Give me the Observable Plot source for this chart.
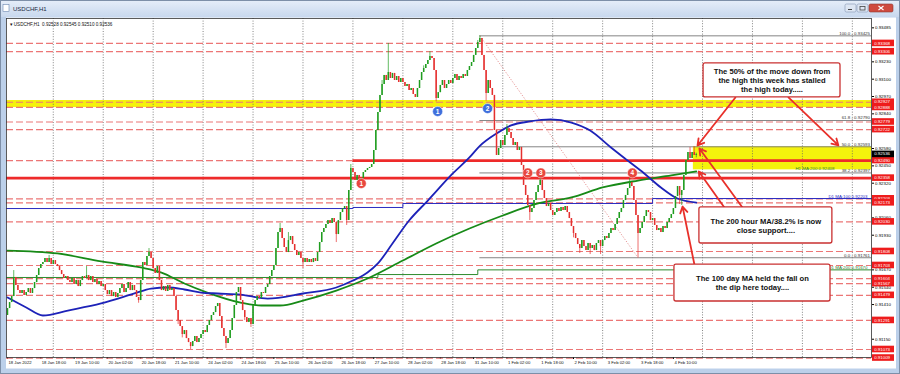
<!DOCTYPE html>
<html><head><meta charset="utf-8">
<script src="https://cdn.jsdelivr.net/npm/d3@7"></script>
<script src="https://cdn.jsdelivr.net/npm/@observablehq/plot@0.6"></script>
<style>
html,body{margin:0;padding:0;background:#c3d4ea;overflow:hidden;}
#chart{position:absolute;left:0;top:0;width:900px;height:374px;}
</style></head>
<body><div id="chart"></div>
<script>
// ---- hourly closes, USDCHF H1 (one array per trading day) ----
const firstOpen = 0.91328;
const jan18 = [0.91380,0.91425,0.91470,0.91613,0.91553,0.91515,0.91493,0.91515,0.91478,0.91500,0.91530,0.91493,0.91530,0.91575,0.91628,0.91680,0.91710,0.91725,0.91755,0.91725,0.91755,0.91710];
const jan19 = [0.91740,0.91710,0.91695,0.91665,0.91635,0.91605,0.91620,0.91590,0.91575,0.91605,0.91560,0.91590,0.91545,0.91590,0.91620,0.91605,0.91628,0.91590,0.91620,0.91575,0.91598,0.91560,0.91583,0.91545];
const jan20 = [0.91560,0.91515,0.91485,0.91515,0.91470,0.91500,0.91463,0.91493,0.91530,0.91560,0.91500,0.91530,0.91575,0.91515,0.91553,0.91515,0.91463,0.91440,0.91590,0.91725,0.91703,0.91770,0.91800,0.91755];
const jan21 = [0.91680,0.91643,0.91695,0.91590,0.91515,0.91545,0.91508,0.91553,0.91515,0.91530,0.91470,0.91365,0.91290,0.91245,0.91185,0.91215,0.91155,0.91125,0.91095,0.91133,0.91170,0.91125,0.91155,0.91185];
const jan24 = [0.91215,0.91200,0.91253,0.91290,0.91328,0.91350,0.91395,0.91418,0.91320,0.91230,0.91170,0.91118,0.91155,0.91215,0.91305,0.91403,0.91500,0.91538,0.91440,0.91365,0.91313,0.91275,0.91305,0.91260];
const jan25 = [0.91403,0.91440,0.91470,0.91455,0.91500,0.91493,0.91538,0.91560,0.91620,0.91665,0.91703,0.91830,0.91950,0.91980,0.91905,0.91838,0.91800,0.91890,0.91920,0.91860,0.91815,0.91778,0.91800,0.91755];
const jan26 = [0.91725,0.91755,0.91725,0.91748,0.91725,0.91755,0.91733,0.91800,0.91875,0.91950,0.91980,0.92010,0.92040,0.92018,0.92055,0.92025,0.91935,0.92040,0.92100,0.92130,0.92145,0.92040,0.92265,0.92430];
const jan27 = [0.92400,0.92340,0.92378,0.92318,0.92355,0.92400,0.92415,0.92430,0.92438,0.92460,0.92565,0.92715,0.92850,0.92978,0.93060,0.93128,0.93090,0.93150,0.93105,0.93143,0.93090,0.93120,0.93075,0.93105];
const jan28 = [0.93075,0.93045,0.93060,0.93015,0.93030,0.92985,0.92963,0.93030,0.93090,0.93150,0.93180,0.93210,0.93240,0.93270,0.93255,0.93165,0.92955,0.92999,0.93053,0.93090,0.93030,0.93060,0.93090,0.93068];
const jan31 = [0.93105,0.93135,0.93090,0.93120,0.93105,0.93135,0.93120,0.93165,0.93195,0.93225,0.93278,0.93330,0.93375,0.93405,0.93278,0.93165,0.92993,0.93090,0.93030,0.92978,0.92715,0.92528,0.92580,0.92640];
const feb01 = [0.92603,0.92678,0.92730,0.92700,0.92655,0.92603,0.92625,0.92565,0.92588,0.92453,0.92303,0.92228,0.92153,0.92100,0.92130,0.92190,0.92250,0.92303,0.92340,0.92265,0.92205,0.92145,0.92168,0.92115];
const feb02 = [0.92078,0.92100,0.92130,0.92108,0.92138,0.92115,0.92145,0.92100,0.92055,0.91995,0.91943,0.91905,0.91860,0.91830,0.91890,0.91845,0.91815,0.91868,0.91830,0.91853,0.91815,0.91868,0.91890,0.91845];
const feb03 = [0.91890,0.91920,0.91905,0.91943,0.91980,0.91965,0.92010,0.92055,0.92100,0.92130,0.92190,0.92228,0.92280,0.92325,0.92295,0.92190,0.92078,0.91943,0.91980,0.92025,0.92070,0.92115,0.92100,0.92040];
const feb04 = [0.92055,0.92003,0.91965,0.91980,0.91950,0.91995,0.91980,0.92025,0.92055,0.92085,0.92130,0.92220,0.92295,0.92228,0.92265,0.92378,0.92490,0.92550,0.92505,0.92550,0.92528,0.92536];

// notable wicks [bar index, price]
const wickHighs = [[3,0.91665],[20,0.91778],[38,0.91695],[68,0.91830],[131,0.92018],[135,0.91950],[165,0.92460],[180,0.93090],[183,0.93368],[200,0.93200],[203,0.93306],[226,0.93390],[227,0.93425],[240,0.92760],[256,0.92400],[299,0.92355],[328,0.92588],[330,0.92593],[331,0.92545]];
const wickLows = [[63,0.91420],[82,0.91260],[84,0.91160],[88,0.91073],[105,0.91080],[114,0.91290],[117,0.91238],[142,0.91680],[158,0.91875],[163,0.92003],[169,0.92280],[206,0.92930],[230,0.92935],[251,0.92040],[272,0.91910],[275,0.91793],[280,0.91785],[285,0.91785],[303,0.91761],[323,0.92160],[324,0.92153],[331,0.92510]];

// moving averages [bar index, price]
const h1ma100 = [[0,0.91463],[9,0.91388],[17,0.91328],[29,0.91365],[45,0.91418],[61,0.91493],[69,0.91530],[77,0.91538],[85,0.91523],[93,0.91500],[101,0.91493],[112,0.91485],[125,0.91455],[142,0.91493],[158,0.91538],[166,0.91590],[173,0.91650],[178,0.91718],[185,0.91868],[193,0.92040],[202,0.92190],[214,0.92393],[222,0.92513],[227,0.92600],[235,0.92693],[242,0.92753],[251,0.92783],[261,0.92798],[271,0.92775],[280,0.92715],[290,0.92588],[298,0.92490],[306,0.92393],[314,0.92288],[322,0.92205],[331,0.92175]];
const h1ma200 = [[0,0.91815],[24,0.91793],[45,0.91733],[64,0.91688],[74,0.91650],[85,0.91568],[96,0.91500],[112,0.91425],[122,0.91403],[131,0.91403],[142,0.91440],[158,0.91515],[173,0.91605],[190,0.91740],[206,0.91868],[222,0.91980],[238,0.92078],[255,0.92168],[271,0.92213],[286,0.92288],[303,0.92340],[319,0.92378],[331,0.92408]];
const d1ma100 = [[-0.5,0.92130],[166,0.92138],[190,0.92168],[310,0.92205],[415.2,0.92205]];
const d1ma200 = [[-0.5,0.91613],[178,0.91635],[226,0.91670],[415.2,0.91670]];

// levels
const dashedLevels = [0.93368,0.93306,0.92927,0.92888,0.92779,0.92722,0.92203,0.92173,0.92030,0.91808,0.91703,0.91604,0.91567,0.91479,0.91291,0.91073,0.91009];
const redLabels = [0.93368,0.93306,0.92927,0.92888,0.92779,0.92722,0.92490,0.92358,0.92203,0.92173,0.92030,0.91808,0.91703,0.91604,0.91567,0.91479,0.91291,0.91073,0.91009];
const lastPrice = 0.92536;
const fibLevels = [0.93425,0.92790,0.92593,0.92397,0.91761];
const fibNames = ["100.0","61.8","50.0","38.2","0.0"];
const fibHigh = {i:227, p:0.93425}, fibLow = {i:303, p:0.91761};
const yTicks = [0.93485,0.93230,0.93100,0.92970,0.92840,0.92580,0.92450,0.92320,0.92060,0.91930,0.91670,0.91540,0.91410,0.91150];
const xLabels = ["18 Jan 2022","18 Jan 18:00","19 Jan 10:00","20 Jan 02:00","20 Jan 18:00","21 Jan 10:00","24 Jan 02:00","24 Jan 18:00","25 Jan 10:00","26 Jan 02:00","26 Jan 18:00","27 Jan 10:00","28 Jan 02:00","28 Jan 18:00","31 Jan 10:00","1 Feb 02:00","1 Feb 18:00","2 Feb 10:00","3 Feb 02:00","3 Feb 18:00","4 Feb 10:00"];
const markers = [
  {i:170, p:0.92318, n:"1", c:"red"},{i:250, p:0.92397, n:"2", c:"red"},{i:256.3, p:0.92397, n:"3", c:"red"},{i:300.3, p:0.92397, n:"4", c:"red"},
  {i:206.7, p:0.92858, n:"1", c:"blue"},{i:230.7, p:0.92880, n:"2", c:"blue"}];
const notes = [
  {x1:334.5, x2:400.3, y1:0.93218, y2:0.92963, text:"The 50% of the move down from\nthe high this week has stalled\nthe high today....."},
  {x1:332.5, x2:396.4, y1:0.92138, y2:0.91868, text:"The 200 hour MA/38.2% is now\nclose support...."},
  {x1:320.5, x2:395.5, y1:0.91710, y2:0.91433, text:"The 100 day MA held the fall on\nthe dip here today...."}];
const arrows = [
  {x1:349.8, y1:0.92963, x2:331.6, y2:0.92603},
  {x1:375.3, y1:0.92963, x2:399.3, y2:0.92603},
  {x1:344.5, y1:0.92138, x2:332.2, y2:0.92408},
  {x1:353.2, y1:0.92138, x2:332.5, y2:0.92580},
  {x1:330.1, y1:0.91710, x2:324.4, y2:0.92145}];

// ---- build candles ----
const closes = [jan18,jan19,jan20,jan21,jan24,jan25,jan26,jan27,jan28,jan31,feb01,feb02,feb03,feb04].flat();
const hiMap = new Map(wickHighs), loMap = new Map(wickLows);
const bars = closes.map((c, i) => {
  const o = i === 0 ? firstOpen : closes[i - 1];
  const hi = Math.max(o, c, hiMap.has(i) ? hiMap.get(i) : -Infinity);
  const lo = Math.min(o, c, loMap.has(i) ? loMap.get(i) : Infinity);
  return {i, o, c, hi, lo, up: c >= o};
});
const G = "#1f9d1f", R = "#e5302f";
const FONT = "'Liberation Sans', Arial, sans-serif";
const xDomain = [-0.48, 415.2], yDomain = [0.91013, 0.93555];
const xTickIdx = xLabels.map((_, k) => k * 16);
const gridIdx = d3.range(22, 415, 24);
const xl = xLabels.map((t, k) => ({i: k * 16, t}));
const ftxt = fibLevels.map((p, k) => ({p, t: fibNames[k] + " - " + p.toFixed(5)}));

const chart = Plot.plot({
  width: 900, height: 374, marginLeft: 6, marginRight: 29, marginTop: 18, marginBottom: 17,
  style: {background: "transparent", fontFamily: FONT, fontSize: "4.4px", color: "#000", overflow: "visible"},
  x: {domain: xDomain, ticks: xTickIdx, tickFormat: () => "", tickSize: 2, label: null},
  y: {domain: yDomain, axis: "right", ticks: yTicks, tickFormat: d3.format(".5f"), tickSize: 2, tickPadding: 1.5, label: null},
  marks: [
    Plot.rect([0], {y1: 0.92887, y2: 0.92940, fill: "#f4f20c"}),
    Plot.rect([0], {x1: 329.6, x2: xDomain[1], y1: 0.92593, y2: 0.92420, fill: "#f4f20c"}),
    Plot.ruleX(gridIdx, {stroke: "#666", strokeDasharray: "1,1.6", strokeWidth: 0.8}),
    Plot.ruleY(dashedLevels, {stroke: "#ec7676", strokeDasharray: "7,3", strokeWidth: 1.2}),
    Plot.ruleY([0.92490], {x1: xDomain[0], x2: 166, stroke: "#ec7676", strokeDasharray: "7,3", strokeWidth: 1.2}),
    Plot.ruleY([0.92490], {x1: 166, x2: xDomain[1], stroke: "#ee2a2a", strokeWidth: 2.8}),
    Plot.ruleY([0.92358], {stroke: "#ee2a2a", strokeWidth: 2.8}),
    Plot.ruleY(fibLevels, {x1: fibHigh.i, x2: xDomain[1], stroke: "#777", strokeWidth: 0.9}),
    Plot.link([0], {x1: fibHigh.i, y1: fibHigh.p, x2: fibLow.i, y2: fibLow.p, stroke: "#e07a7a", strokeDasharray: "1.2,1.6", strokeWidth: 0.8}),
    Plot.line(d1ma100, {x: d => d[0], y: d => d[1], curve: "step-after", stroke: "#2a2ac0", strokeWidth: 1}),
    Plot.line(d1ma200, {x: d => d[0], y: d => d[1], curve: "step-after", stroke: "#2e8b2e", strokeWidth: 1}),
    Plot.line(h1ma200, {x: d => d[0], y: d => d[1], curve: "monotone-x", stroke: "#178a17", strokeWidth: 1.8}),
    Plot.line(h1ma100, {x: d => d[0], y: d => d[1], curve: "monotone-x", stroke: "#1d22b8", strokeWidth: 1.8}),
    Plot.ruleX(bars, {x: "i", y1: "lo", y2: "hi", stroke: d => d.up ? G : R, strokeWidth: 0.7}),
    Plot.ruleX(bars, {x: "i", y1: "o", y2: "c", stroke: d => d.up ? G : R, strokeWidth: 1.5}),
    Plot.dot(markers, {x: "i", y: "p", r: 5, fill: d => d.c === "red" ? "#e8473f" : "#3f6fdc", stroke: "white", strokeWidth: 0.5}),
    Plot.text(markers, {x: "i", y: "p", text: "n", fill: "white", fontWeight: "bold", fontSize: 6.5}),
    Plot.text(ftxt, {y: "p", text: "t", frameAnchor: "right", textAnchor: "end", dx: -1.5, dy: -2.6, fill: "#333", fontSize: 4.4}),
    Plot.text([0], {y: 0.92408, text: ["H1 MA:200 0.92408"], frameAnchor: "right", textAnchor: "end", dx: -37, dy: -2.4, fill: "#2e7d2e", fontSize: 4.4}),
    Plot.text([0], {y: 0.92203, text: ["D1 MA:100 0.92203"], frameAnchor: "right", textAnchor: "end", dx: -4, dy: -2.6, fill: "#2a2ac0", fontSize: 4.4}),
    Plot.text([0], {y: 0.91670, text: ["D1 MA:200 0.91670"], frameAnchor: "right", textAnchor: "end", dx: -4, dy: -2.6, fill: "#2e7d2e", fontSize: 4.4}),
    Plot.arrow(arrows, {x1: "x1", y1: "y1", x2: "x2", y2: "y2", stroke: "#e8302a", strokeWidth: 1.8, headLength: 6}),
    Plot.rect(notes, {x1: "x1", x2: "x2", y1: "y1", y2: "y2", fill: "white", stroke: "#c93030", strokeWidth: 1.3, rx: 2}),
    Plot.text(notes, {x: d => (d.x1 + d.x2) / 2, y: d => (d.y1 + d.y2) / 2, text: "text", fontWeight: "bold", fontSize: 7.6, lineHeight: 1.2, fill: "#111", fontFamily: FONT}),
    Plot.text(["\u25BE USDCHF,H1  0.92528 0.92545 0.92510 0.92536"], {frameAnchor: "top-left", dx: 3, dy: 4.5, textAnchor: "start", fontSize: 4.6, fill: "#111"}),
    Plot.text(xl, {x: "i", text: "t", frameAnchor: "bottom", dy: 6, dx: 1, textAnchor: "start", fontSize: 4.2, fill: "#111"}),
    Plot.frame({stroke: "#333", strokeWidth: 0.8})
  ]
});
document.getElementById("chart").appendChild(chart);

// ---- window chrome and right-axis price tags ----
const svg = d3.select(chart);
const ys = chart.scale("y");
const yPix = v => ys.apply(v);
const bg = svg.insert("g", ":first-child");
const defs = bg.append("defs");
const gr = defs.append("linearGradient").attr("id", "tb").attr("x1", 0).attr("y1", 0).attr("x2", 0).attr("y2", 1);
gr.append("stop").attr("offset", "0%").attr("stop-color", "#e6eef9");
gr.append("stop").attr("offset", "100%").attr("stop-color", "#c8d8ee");
bg.append("rect").attr("x", 0).attr("y", 0).attr("width", 900).attr("height", 374).attr("fill", "#bcd0ea");
bg.append("rect").attr("x", 0).attr("y", 0).attr("width", 900).attr("height", 17).attr("fill", "url(#tb)");
bg.append("rect").attr("x", 6).attr("y", 17.5).attr("width", 890).attr("height", 351).attr("fill", "#fff");
bg.append("rect").attr("x", 0.5).attr("y", 0.5).attr("width", 899).attr("height", 373).attr("fill", "none").attr("stroke", "#7d8fa8");
const fg = svg.append("g").attr("text-anchor", "start");
fg.append("rect").attr("x", 3).attr("y", 4.5).attr("width", 6).attr("height", 7).attr("fill", "#fff").attr("stroke", "#6a86b0").attr("stroke-width", 0.6);
fg.append("text").attr("x", 13).attr("y", 11).attr("text-anchor", "start").attr("font-size", 6).attr("fill", "#1b2a40").attr("font-family", FONT).text("USDCHF,H1");
[[845, 11, "#dde6f3"], [857, 11, "#dde6f3"]].forEach(([x, w, f]) =>
  fg.append("rect").attr("x", x).attr("y", 4).attr("width", w).attr("height", 8).attr("rx", 1.5).attr("fill", f).attr("stroke", "#8396b3").attr("stroke-width", 0.6));
fg.append("rect").attr("x", 869).attr("y", 4).attr("width", 24).attr("height", 8).attr("rx", 1.5).attr("fill", "#cf4a3e").attr("stroke", "#8a3a33").attr("stroke-width", 0.6);
fg.append("line").attr("x1", 848).attr("x2", 852).attr("y1", 9.5).attr("y2", 9.5).attr("stroke", "#444").attr("stroke-width", 1);
fg.append("rect").attr("x", 860).attr("y", 6.5).attr("width", 5).attr("height", 3.5).attr("fill", "none").attr("stroke", "#444").attr("stroke-width", 0.8);
fg.append("path").attr("d", "M878.5,6 L883.5,10 M883.5,6 L878.5,10").attr("stroke", "#fff").attr("stroke-width", 1.1);
const tag = (v, fill) => {
  const y = yPix(v);
  fg.append("rect").attr("x", 872).attr("y", y - 3.3).attr("width", 22).attr("height", 6.6).attr("fill", fill);
  fg.append("text").attr("x", 874.2).attr("y", y + 1.6).attr("text-anchor", "start").attr("font-size", 4.4).attr("fill", "#fff")
    .attr("font-family", FONT).text(v.toFixed(5));
};
redLabels.forEach(v => tag(v, "#ee1c1c"));
tag(lastPrice, "#000");
</script>
</body></html>
